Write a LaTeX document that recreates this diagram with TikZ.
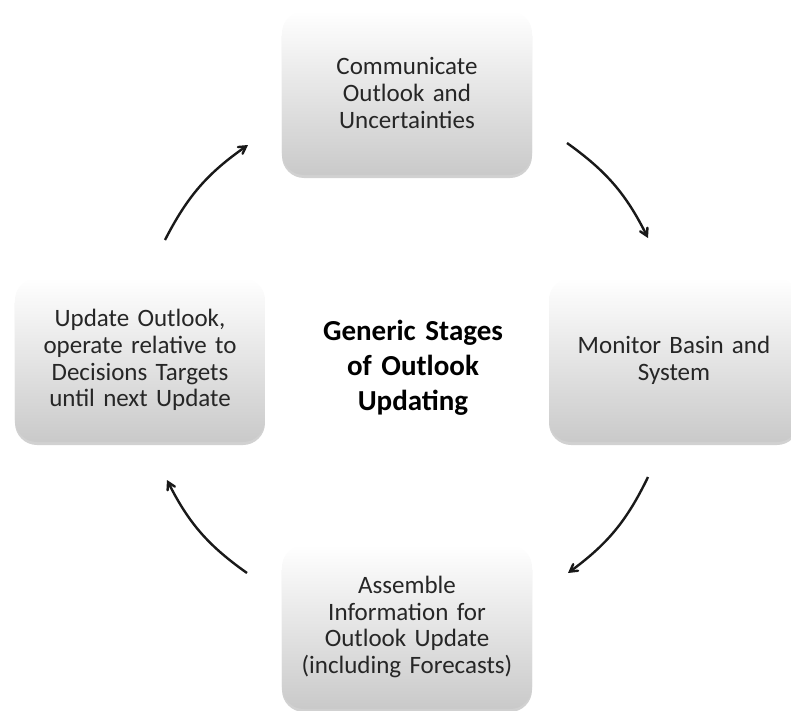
\documentclass[tikz,border=0pt]{standalone}
\usepackage{fontspec}
\setmainfont{Carlito}
\usepackage{tikz}
\usetikzlibrary{shapes.geometric, arrows, shadows}

\begin{document}
\begin{tikzpicture}[x=1pt, y=1pt, node distance=267pt, font=\fontsize{25}{26.7}\selectfont]
		\tikzstyle{stage} = [rectangle, rounded corners=22pt, minimum width=250pt, minimum height=164pt, inner sep=4pt, text centered, text width=242pt, text=black!85, top color=white, bottom color=gray!42, draw=none, drop shadow={shadow xshift=0pt, shadow yshift=-3pt, opacity=0.18, fill=black}]
		
		\tikzstyle{title} = [text centered, text width=240pt, font=\fontsize{29}{35}\selectfont\bfseries]
		
		\tikzstyle{arrow} = [->, >=angle 60, line width=2.4pt, black!90]
		
		\useasboundingbox (-407,-350) rectangle (384,360);
		
		% Middle of the cycle
		\coordinate (mid) at (0,0);
		\node (title) [title] at (6,-8) {Generic Stages\\ of Outlook\\ Updating};
		
		% The four stages
		\node (communicate) [stage, above of = mid] {Communicate\\ Outlook and\\ Uncertainties};
		\node (monitor) [stage, right of = mid] {Monitor Basin and\\ System};
		\node (assemble) [stage, below of = mid] {Assemble\\ Information for\\ Outlook Update\\ (including Forecasts)};
		\node (update) [stage, left of = mid] {Update Outlook,\\ operate relative to\\ Decisions Targets\\ until next Update};
		
		% Ends of the arrows
		\coordinate (c1) at (160,217);
		\coordinate (m1) at (241,122);
		\coordinate (m2) at (241,-117);
		\coordinate (a1) at (161,-213);
		\coordinate (a2) at (-160,-213);
		\coordinate (u1) at (-240,-120);
		\coordinate (u2) at (-242,120);
		\coordinate (c2) at (-159,215);
		
		% Arrows
		\draw [arrow] (c1) to[bend left=14] (m1);
		\draw [arrow] (m2) to[bend left=14] (a1);
		\draw [arrow] (a2) to[bend left=14] (u1);
		\draw [arrow] (u2) to[bend left=14] (c2);
		\end{tikzpicture}
\end{document}
